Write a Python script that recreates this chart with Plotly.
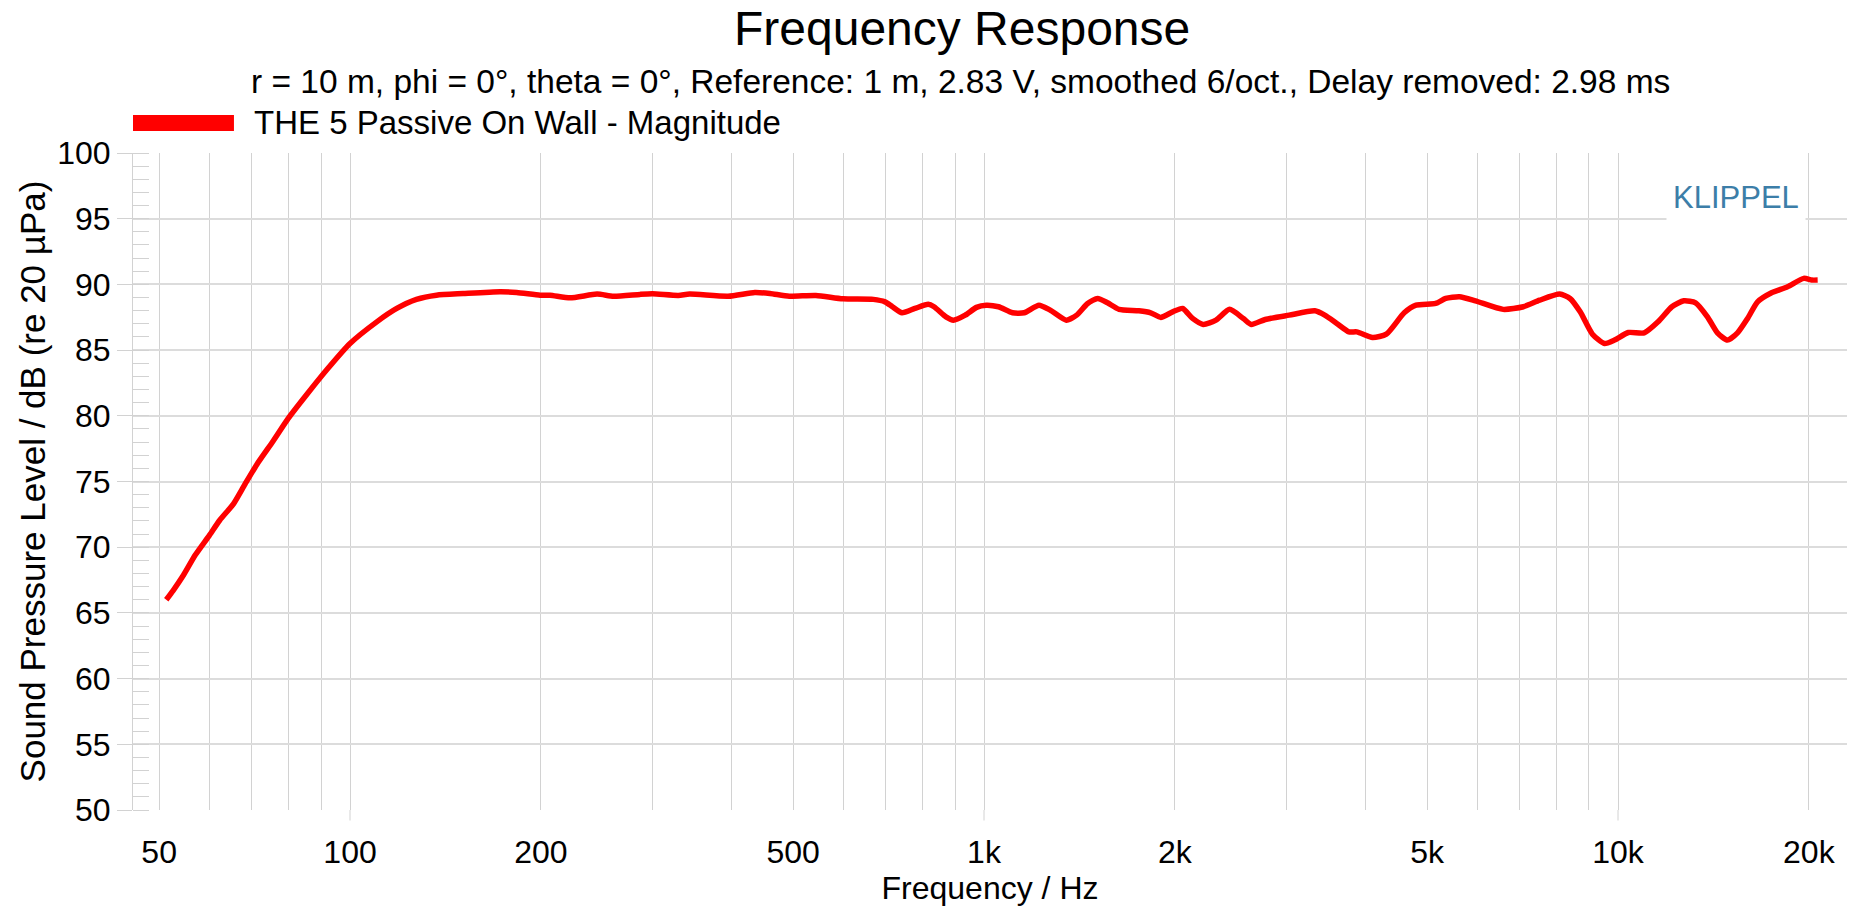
import plotly.graph_objects as go

# frequency response
freq = [51.3, 52.6, 54.6, 57.0, 60.0, 62.3, 65.5, 68.3, 71.3, 75.7,
        79.9, 85.4, 91.9, 100, 110.2, 118.5, 127.3, 136.9, 150.8, 172.4,
        183.2, 199.5, 206.8, 222.4, 245.3, 260.4, 286.7, 300, 329.5, 343.3,
        394.7, 435, 459.6, 493, 543, 599, 669, 698, 717, 742.6,
        778, 816.6, 834, 871, 895, 934, 973, 1008, 1054, 1109,
        1157, 1221, 1272, 1348, 1400, 1457, 1511, 1566, 1633, 1755,
        1832, 1900, 1984, 2057, 2133, 2217, 2322, 2440, 2565, 2640,
        2777, 3029, 3325, 3447, 3601, 3763, 3873, 4100, 4311, 4600,
        4803, 5157, 5348, 5623, 5958, 6590, 7093, 7524, 8094, 8400,
        8717, 9113, 9521, 9873, 10383, 10998, 11566, 12163, 12699, 13255,
        13838, 14349, 14882, 15435, 16012, 16601, 17466, 18509, 19634, 20208,
        20650]
spl = [66.0, 66.7, 67.86, 69.4, 70.9, 72.05, 73.3, 74.8, 76.3, 78.1,
       79.8, 81.6, 83.5, 85.5, 87.15, 88.17, 88.86, 89.18, 89.3, 89.44,
       89.39, 89.18, 89.18, 88.98, 89.26, 89.1, 89.24, 89.28, 89.16, 89.26,
       89.1, 89.39, 89.31, 89.1, 89.16, 88.9, 88.86, 88.67, 88.3, 87.84,
       88.17, 88.48, 88.3, 87.53, 87.28, 87.66, 88.25, 88.42, 88.3, 87.84,
       87.84, 88.42, 88.04, 87.28, 87.66, 88.55, 88.93, 88.6, 88.1, 87.99,
       87.84, 87.49, 87.91, 88.17, 87.41, 86.95, 87.28, 88.1, 87.4, 86.95,
       87.33, 87.66, 87.99, 87.66, 87.03, 86.39, 86.39, 85.96, 86.21, 87.84,
       88.42, 88.55, 88.93, 89.06, 88.75, 88.1, 88.3, 88.8, 89.26, 88.93,
       87.91, 86.21, 85.5, 85.76, 86.34, 86.31, 87.15, 88.3, 88.75, 88.6,
       87.53, 86.31, 85.76, 86.31, 87.41, 88.67, 89.36, 89.82, 90.46, 90.33,
       90.33]

x_labels = [50, 100, 200, 500, 1000, 2000, 5000, 10000, 20000]
x_text = ["50", "100", "200", "500", "1k", "2k", "5k", "10k", "20k"]
x_minor = [60, 70, 80, 90, 300, 400, 600, 700, 800, 900,
           3000, 4000, 6000, 7000, 8000, 9000]
decades = [100, 1000, 10000]

series_name = "THE 5 Passive On Wall - Magnitude"
title = "Frequency Response"
subtitle = ("r = 10 m, phi = 0°, theta = 0°, Reference: 1 m, 2.83 V, "
            "smoothed 6/oct., Delay removed: 2.98 ms")

FONT = "Liberation Sans, Arial, sans-serif"
GRID = "#d2d2d2"

fig = go.Figure()
fig.add_trace(go.Scatter(
    x=freq, y=spl, mode="lines", name=series_name,
    line=dict(color="#ff0000", width=5.5, shape="spline", smoothing=0.6),
    showlegend=False,
))

# decade tick marks under the axis
for d in decades:
    fig.add_shape(type="line", xref="x", yref="paper", x0=d, x1=d,
                  y0=-0.016, y1=0, line=dict(color=GRID, width=1))

# legend drawn by hand (wide swatch)
fig.add_shape(type="rect", xref="paper", yref="paper",
              x0=0.0, x1=0.0589, y0=1.0335, y1=1.0578,
              fillcolor="#ff0000", line=dict(width=0))
fig.add_annotation(text=series_name, xref="paper", yref="paper",
                   x=0.0694, y=1.0464, xanchor="left", yanchor="middle",
                   showarrow=False, font=dict(size=33, color="black"))

fig.add_annotation(text=title, xref="paper", yref="paper",
                   x=0.4837, y=1.190, xanchor="center", yanchor="middle",
                   showarrow=False, font=dict(size=48, color="black"))
fig.add_annotation(text=subtitle, xref="paper", yref="paper",
                   x=0.4828, y=1.109, xanchor="center", yanchor="middle",
                   showarrow=False, font=dict(size=33.5, color="black"))
fig.add_annotation(text="KLIPPEL", xref="paper", yref="paper",
                   x=0.9352, y=0.933, xanchor="center", yanchor="middle",
                   showarrow=False, bgcolor="white", borderpad=6,
                   font=dict(size=31, color="#3c7ea8"))

fig.update_layout(
    width=1850, height=910,
    margin=dict(l=133, r=3, t=153, b=100),
    paper_bgcolor="white", plot_bgcolor="white",
    font=dict(family=FONT, color="black"),
    xaxis=dict(
        type="log", range=[1.6577, 4.3612],
        tickvals=x_labels, ticktext=x_text,
        ticks="outside", ticklen=14, tickcolor="rgba(0,0,0,0)",
        tickfont=dict(size=32),
        showgrid=True, gridcolor=GRID, gridwidth=1,
        minor=dict(tickvals=x_minor, showgrid=True, gridcolor=GRID,
                   gridwidth=1, ticks=""),
        showline=False, zeroline=False,
        title=dict(text="Frequency / Hz", font=dict(size=32), standoff=2),
    ),
    yaxis=dict(
        range=[50, 100], dtick=5, tick0=50,
        ticks="outside", ticklen=15, tickcolor=GRID,
        tickfont=dict(size=32),
        showgrid=True, gridcolor="#dcdcdc", gridwidth=2,
        minor=dict(dtick=1, ticks="inside", ticklen=16, tickcolor=GRID,
                   showgrid=False),
        showline=True, linecolor=GRID, linewidth=1, zeroline=False,
        title=dict(text="Sound Pressure Level / dB (re 20 µPa)",
                   font=dict(size=35), standoff=0),
    ),
)

fig.write_html("out.html", config={"displayModeBar": False},
               post_script="document.body.style.margin='0px';")
